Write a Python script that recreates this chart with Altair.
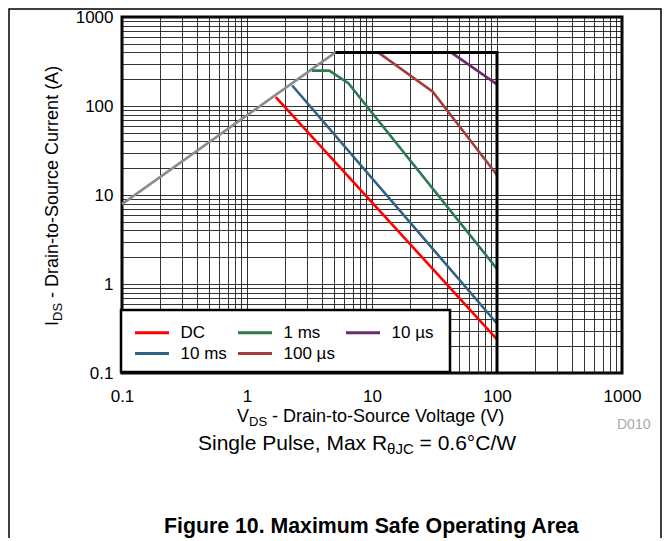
import altair as alt
import pandas as pd

FONT = "Liberation Sans"

# ---- data (V = drain-source voltage, I = drain current) ----
DC_V = [1.70, 100]
DC_I = [126, 0.239]
MS10_V = [2.30, 100]
MS10_I = [170, 0.36]
MS1_V = [3.3, 4.55, 6.47, 100]
MS1_I = [250, 250, 180, 1.48]
US100_V = [11.2, 30.6, 100]
US100_I = [400, 145, 16.8]
US10_V = [42.9, 100]
US10_I = [400, 175]
RDS_V = [0.1, 5.1]
RDS_I = [7.9, 400]
LIM_V = [5.1, 100, 100]
LIM_I = [400, 400, 0.1]

LEGEND_ORDER = ["DC", "1 ms", "10 µs", "10 ms", "100 µs"]
LEGEND_COLORS = ["#ff0000", "#2b7a52", "#6a2c6c", "#2e6384", "#a33d3b"]

GRID = [0.1, 0.2, 0.3, 0.4, 0.5, 0.6, 0.7, 0.8, 0.9,
        1, 2, 3, 4, 5, 6, 7, 8, 9,
        10, 20, 30, 40, 50, 60, 70, 80, 90,
        100, 200, 300, 400, 500, 600, 700, 800, 900, 1000]
MAJOR_LABELS = ["0.1", "1", "10", "100", "1000"]

series_pts = [("DC", DC_V, DC_I), ("10 ms", MS10_V, MS10_I), ("1 ms", MS1_V, MS1_I),
              ("100 µs", US100_V, US100_I), ("10 µs", US10_V, US10_I)]
rows = []
for name, vs, cs in series_pts:
    for k, (v, c) in enumerate(zip(vs, cs)):
        rows.append({"series": name, "k": k, "V": v, "I": c})
df = pd.DataFrame(rows)
df_rds = pd.DataFrame({"k": range(len(RDS_V)), "V": RDS_V, "I": RDS_I})
df_lim = pd.DataFrame({"k": range(len(LIM_V)), "V": LIM_V, "I": LIM_I})
dummy = pd.DataFrame({"d": [0]})

label_expr = "indexof(" + str(MAJOR_LABELS) + ", datum.label) >= 0 ? datum.label : ''"

xscale = alt.Scale(type="log", domain=[0.1, 1000], nice=False)
yscale = alt.Scale(type="log", domain=[0.1, 1000], nice=False)
common_axis = dict(values=GRID, format="~g", labelExpr=label_expr, grid=True,
                   gridColor="#111111", gridOpacity=0.85, gridWidth=1,
                   ticks=False, tickSize=0, domain=False, labelFontSize=17,
                   labelFont=FONT, labelColor="black", labelOverlap=False,
                   title=None)
xaxis = alt.Axis(labelPadding=15, labelFlush=False, **common_axis)
yaxis = alt.Axis(labelPadding=9, **common_axis)

X = alt.X("V:Q", scale=xscale, axis=xaxis)
Y = alt.Y("I:Q", scale=yscale, axis=yaxis)

rds = alt.Chart(df_rds).mark_line(color="#8c8c8c", strokeWidth=2.6).encode(
    x=X, y=Y, order="k:Q")

curves = alt.Chart(df).mark_line(strokeWidth=2.6).encode(
    x=X, y=Y, order="k:Q",
    color=alt.Color("series:N",
                    scale=alt.Scale(domain=LEGEND_ORDER, range=LEGEND_COLORS),
                    legend=alt.Legend(orient="none", legendX=21.5, legendY=307,
                                      direction="horizontal",
                                      title=None, columns=3, padding=0,
                                      columnPadding=4, rowPadding=3,
                                      gridAlign="each",
                                      symbolType="M-3.4,0H3.4", symbolSize=100,
                                      symbolStrokeWidth=3, labelOffset=20,
                                      labelFontSize=17, labelFont=FONT,
                                      labelColor="black")))

lim = alt.Chart(df_lim).mark_line(color="black", strokeWidth=3).encode(
    x=X, y=Y, order="k:Q")

legend_box = alt.Chart(dummy).mark_rect(fill="white", stroke="black", strokeWidth=2.5).encode(
    x=alt.value(-1), x2=alt.value(328), y=alt.value(293), y2=alt.value(355))

frame = alt.Chart(dummy).mark_rect(fillOpacity=0, stroke="black", strokeWidth=1.5).encode(
    x=alt.value(-113), x2=alt.value(539), y=alt.value(-8), y2=alt.value(800))


def txt(s, x, y, size, angle=0, weight="normal", color="black"):
    return alt.Chart(dummy).mark_text(text=s, font=FONT, fontSize=size, align="left",
                                      baseline="alphabetic", angle=angle,
                                      fontWeight=weight, color=color).encode(
        x=alt.value(x), y=alt.value(y))


SP = 0.278  # width of a space, in em
# x-axis title: V + subscript DS + rest
xt = [txt("V", 115, 404.5, 18),
      txt("DS", 115 + 0.667 * 18, 408.5, 13),
      txt("- Drain-to-Source Voltage (V)", 115 + 0.667 * 18 + 1.389 * 13 + SP * 18, 404.5, 18)]
# y-axis title (rotated)
yt = [txt("I", -64, 309, 18, angle=270),
      txt("DS", -60, 309 - 0.278 * 18, 13, angle=270),
      txt("- Drain-to-Source Current (A)", -64, 309 - 0.278 * 18 - 1.389 * 13 - SP * 18, 18, angle=270)]
# subtitle
st = [txt("Single Pulse, Max R", 76, 433, 21),
      txt("θJC", 76 + 9.003 * 21, 437, 15),
      txt("= 0.6°C/W", 76 + 9.003 * 21 + 1.778 * 15 + SP * 21, 433, 21)]
cap = txt("Figure 10. Maximum Safe Operating Area", 42, 516, 21.3, weight="bold")
code = txt("D010", 495, 412, 14, color="#a8a8a8")

chart = alt.layer(frame, rds, curves, lim, legend_box, *xt, *yt, *st, cap, code).properties(
    width=500, height=356,
    autosize=alt.AutoSizeParams(type="none"),
    padding={"left": 114, "top": 9, "right": 41, "bottom": 165},
).configure_view(stroke="black", strokeWidth=3)

chart.save("out.html", embed_options={"renderer": "svg", "actions": False})
